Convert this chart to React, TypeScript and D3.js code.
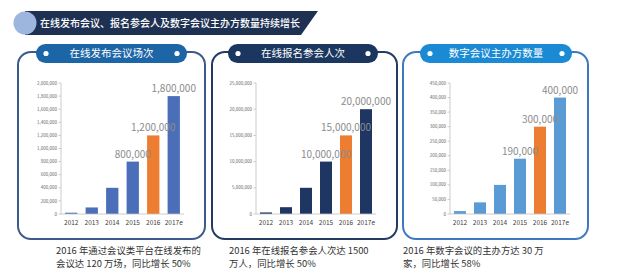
import * as d3 from "d3";

const years = ["2012", "2013", "2014", "2015", "2016", "2017e"];

const meetingValues = [20000, 100000, 400000, 800000, 1200000, 1800000];
const meetingTicks = d3.range(0, 2000001, 200000);

const signupValues = [300000, 1300000, 5000000, 10000000, 15000000, 20000000];
const signupTicks = d3.range(0, 25000001, 5000000);

const hostValues = [10000, 40000, 100000, 190000, 300000, 400000];
const hostTicks = d3.range(0, 450001, 50000);

const labeledYears = ["2015", "2016", "2017e"];
const highlightYear = "2016";

const bannerTitle = "在线发布会议、报名参会人及数字会议主办方数量持续增长";

const FONT = "'Noto Sans CJK SC', 'Noto Sans', sans-serif";
const fmt = d3.format(",");

interface PanelProps {
  left: number;
  right: number;
  axisX: number;
  axisEnd: number;
  pillLeft: number;
  pillRight: number;
  title: string;
  pillColor: string;
  borderColor: string;
  barColor: string;
  values: number[];
  ticks: number[];
  caption: string[];
  captionX: number;
}

function Panel(p: PanelProps) {
  const top = 52;
  const bottom = 239;
  const y0 = 214;
  const yTop = 83;

  const x = d3
    .scaleBand<string>()
    .domain(years)
    .range([p.axisX, p.axisEnd])
    .paddingInner(0.4)
    .paddingOuter(0.2);

  const y = d3
    .scaleLinear()
    .domain([0, p.ticks[p.ticks.length - 1]])
    .range([y0, yTop]);

  const pillMid = (p.pillLeft + p.pillRight) / 2;
  const pillY = 44;
  const pillH = 19;

  return (
    <g>
      <rect
        x={p.left}
        y={top}
        width={p.right - p.left}
        height={bottom - top}
        rx={13}
        fill="#fff"
        stroke={p.borderColor}
        strokeWidth={2}
      />
      <rect
        x={p.pillLeft}
        y={pillY}
        width={p.pillRight - p.pillLeft}
        height={pillH}
        rx={pillH / 2}
        fill={p.pillColor}
      />
      <circle cx={p.pillLeft + 10} cy={pillY + pillH / 2} r={2.6} fill="#fff" />
      <circle cx={p.pillRight - 10} cy={pillY + pillH / 2} r={2.6} fill="#fff" />
      <text
        x={pillMid}
        y={pillY + pillH / 2 + 3.8}
        textAnchor="middle"
        fill="#fff"
        fontSize={10.5}
        fontFamily={FONT}
      >
        {p.title}
      </text>

      {/* y axis */}
      <line x1={p.axisX} x2={p.axisX} y1={yTop} y2={y0} stroke="#bfbfbf" strokeWidth={0.8} />
      {p.ticks.map((t) => (
        <g key={t}>
          <line x1={p.axisX - 2.5} x2={p.axisX} y1={y(t)} y2={y(t)} stroke="#bfbfbf" strokeWidth={0.8} />
          <text
            x={p.axisX - 4}
            y={y(t) + 1.6}
            textAnchor="end"
            fontSize={4.5}
            fill="#666"
            fontFamily={FONT}
          >
            {fmt(t)}
          </text>
        </g>
      ))}

      {/* bars */}
      {years.map((yr, i) => (
        <rect
          key={yr}
          x={x(yr)}
          y={y(p.values[i])}
          width={x.bandwidth()}
          height={y0 - y(p.values[i])}
          fill={yr === highlightYear ? "#ed7d31" : p.barColor}
        />
      ))}
      <line x1={p.axisX} x2={p.axisEnd} y1={y0} y2={y0} stroke="#bfbfbf" strokeWidth={0.8} />

      {years.map((yr) => (
        <text
          key={yr}
          x={(x(yr) as number) + x.bandwidth() / 2}
          y={y0 + 11}
          textAnchor="middle"
          fontSize={6.5}
          fill="#404040"
          fontFamily={FONT}
        >
          {yr}
        </text>
      ))}

      {years.map((yr, i) =>
        labeledYears.includes(yr) ? (
          <text
            key={yr}
            x={(x(yr) as number) + x.bandwidth() / 2}
            y={y(p.values[i]) - 4}
            textAnchor="middle"
            fontSize={10}
            fill="#8c8c8c"
            fontFamily={FONT}
          >
            {fmt(p.values[i])}
          </text>
        ) : null
      )}

      {p.caption.map((line, i) => (
        <text
          key={i}
          x={p.captionX}
          y={254 + i * 12.5}
          fontSize={9.4}
          fill="#333"
          fontFamily={FONT}
        >
          {line}
        </text>
      ))}
    </g>
  );
}

export default function App() {
  return (
    <svg
      width={640}
      height={280}
      viewBox="0 0 640 280"
      style={{ position: "absolute", left: 0, top: 0, background: "#fff" }}
    >
      {/* banner */}
      <path d="M25,11 L318,11 L301,35 L25,35 Z" fill="#1e3152" />
      <circle cx={25} cy={23} r={11.5} fill="#9db6de" />
      <text x={40} y={27} fill="#fff" fontSize={10} fontWeight={500} fontFamily={FONT}>
        {bannerTitle}
      </text>

      <Panel
        left={18}
        right={205}
        axisX={61}
        axisEnd={184}
        pillLeft={36}
        pillRight={187}
        title="在线发布会议场次"
        pillColor="#1c65a6"
        borderColor="#3c5a8c"
        barColor="#4a6fb8"
        values={meetingValues}
        ticks={meetingTicks}
        caption={["2016 年通过会议类平台在线发布的", "会议达 120 万场，同比增长 50%"]}
        captionX={56}
      />
      <Panel
        left={212}
        right={397}
        axisX={256}
        axisEnd={376}
        pillLeft={228}
        pillRight={378}
        title="在线报名参会人次"
        pillColor="#1b3760"
        borderColor="#233a63"
        barColor="#1f3562"
        values={signupValues}
        ticks={signupTicks}
        caption={["2016 年在线报名参会人次达 1500", "万人，同比增长 50%"]}
        captionX={229}
      />
      <Panel
        left={403}
        right={588}
        axisX={450}
        axisEnd={570}
        pillLeft={420}
        pillRight={572}
        title="数字会议主办方数量"
        pillColor="#1a8ad4"
        borderColor="#3f78bf"
        barColor="#5b9bd5"
        values={hostValues}
        ticks={hostTicks}
        caption={["2016 年数字会议的主办方达 30 万", "家，同比增长 58%"]}
        captionX={403}
      />
    </svg>
  );
}
